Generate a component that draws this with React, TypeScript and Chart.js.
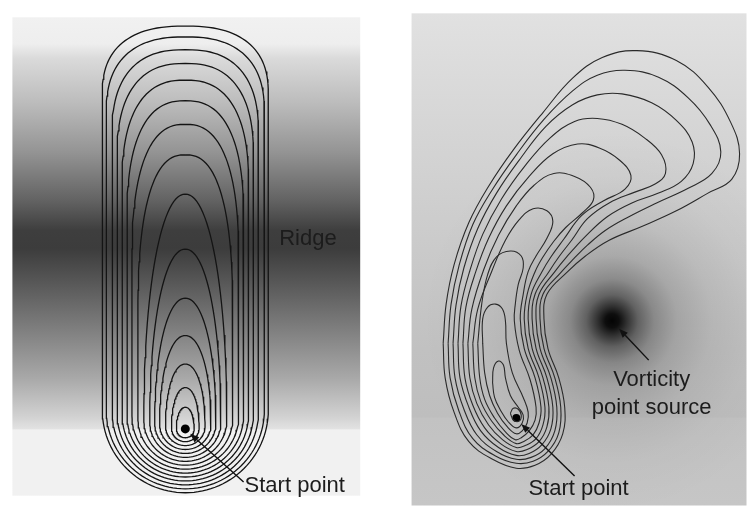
import React, { useEffect, useRef } from "react";
import { Chart, registerables } from "chart.js";

Chart.register(...registerables);

// ---------- Left panel (ridge): nested U-shaped contours, outer first ----------
const leftCenterX = 183;
const leftTops = [22, 33, 46, 60, 77, 98, 122, 153, 193, 249, 299, 337, 366, 390, 410];
const leftBottoms = [497, 493, 489, 485, 481, 477, 473, 469, 465, 461, 457, 453, 449, 445, 441];
const leftHalfWidths = [84, 80, 74, 69, 64, 59, 54, 48, 42, 36, 31, 26, 20, 14, 9];
const leftDomeHeights = [70, 78, 86, 96, 108, 122, 140, 165, 230, 176, 127, 90, 63, 41, 22];

// ---------- Right panel (vorticity source): contours, inner first ----------
const rightContour1 = [[512, 416], [515, 411], [520, 412], [523, 418], [521, 424], [515, 423], [512, 416]];
const rightContour2 = [[494, 385], [495, 370], [500, 363], [505, 367], [507, 380], [512, 398], [520, 410], [525, 418], [524, 426], [518, 431], [510, 425], [502, 413], [496, 400], [494, 385]];
const rightContour3 = [[484, 345], [484, 320], [489, 308], [497, 305], [504, 310], [507, 322], [508, 345], [514, 375], [525, 400], [530, 415], [529, 426], [524, 434], [518, 437], [509, 430], [499, 416], [491, 398], [486, 375], [484, 345]];
const rightContour4 = [[479, 345], [483, 305], [489, 275], [498, 257], [512, 251], [523, 256], [525, 268], [520, 285], [517, 305], [516, 322], [521, 352], [532, 382], [538, 410], [537, 423], [531, 434], [523, 441], [517, 443], [507, 435], [496, 421], [486, 402], [481, 380], [479, 345]];
const rightContour5 = [[474, 345], [479, 310], [493, 272], [507, 240], [521, 219], [535, 208], [549, 210], [555, 221], [549, 238], [538, 256], [530, 272], [525, 295], [522, 320], [526, 350], [537, 380], [543, 410], [541, 426], [535, 438], [525, 445], [518, 447], [506, 439], [493, 424], [482, 404], [476, 380], [474, 345]];
const rightContour6 = [[469, 345], [473, 310], [485, 270], [500, 235], [518, 205], [536, 184], [556, 172], [577, 175], [593, 186], [596, 199], [585, 212], [568, 227], [556, 241], [545, 257], [537, 272], [529, 295], [526, 320], [530, 350], [541, 380], [547, 410], [545, 428], [538, 442], [527, 449], [518, 451], [504, 443], [490, 428], [478, 406], [471, 380], [469, 345]];
const rightContour7 = [[464, 345], [467, 308], [477, 272], [490, 238], [508, 205], [531, 175], [555, 152], [580, 142], [602, 146], [622, 158], [634, 174], [628, 188], [606, 200], [584, 215], [566, 239], [553, 257], [544, 272], [533, 295], [530, 320], [534, 350], [545, 380], [551, 410], [549, 430], [541, 445], [529, 453], [518, 455], [502, 447], [486, 431], [474, 408], [466, 380], [464, 345]];
const rightContour8 = [[459, 345], [462, 307], [471, 271], [484, 234], [503, 198], [527, 164], [552, 136], [577, 119], [600, 116], [625, 122], [648, 136], [665, 153], [669, 172], [658, 183], [638, 191], [612, 202], [590, 218], [574, 240], [561, 257], [551, 272], [537, 295], [534, 320], [538, 350], [549, 380], [555, 410], [553, 432], [544, 448], [531, 457], [518, 459], [500, 451], [482, 434], [470, 410], [461, 380], [459, 345]];
const rightContour9 = [[454, 345], [457, 306], [465, 268], [479, 228], [498, 192], [522, 157], [548, 124], [575, 102], [600, 92], [625, 91], [655, 100], [680, 118], [696, 140], [697, 162], [685, 180], [662, 192], [635, 202], [610, 216], [588, 236], [569, 257], [557, 272], [541, 295], [538, 320], [542, 350], [553, 380], [559, 410], [557, 434], [547, 452], [533, 461], [518, 463], [498, 455], [478, 438], [465, 412], [456, 380], [454, 345]];
const rightContour10 = [[449, 345], [452, 305], [460, 266], [474, 224], [494, 188], [518, 153], [546, 117], [575, 88], [600, 72], [628, 67], [662, 74], [692, 95], [714, 122], [725, 150], [716, 172], [692, 187], [660, 202], [632, 216], [608, 230], [590, 245], [576, 259], [563, 273], [545, 295], [542, 320], [546, 350], [557, 380], [563, 410], [561, 436], [550, 455], [535, 465], [518, 467], [496, 459], [474, 442], [460, 414], [451, 380], [449, 345]];
const rightContour11 = [[444, 345], [447, 305], [455, 265], [470, 222], [490, 185], [515, 148], [545, 110], [575, 75], [605, 54], [640, 47], [680, 57], [712, 84], [735, 120], [744, 152], [736, 178], [712, 192], [680, 210], [645, 226], [612, 240], [588, 256], [570, 272], [549, 295], [546, 320], [550, 350], [561, 380], [567, 410], [565, 437], [553, 458], [537, 469], [518, 472], [494, 463], [470, 445], [455, 415], [446, 380], [444, 345]];
const rightContours = [rightContour1, rightContour2, rightContour3, rightContour4, rightContour5, rightContour6, rightContour7, rightContour8, rightContour9, rightContour10, rightContour11];

// start points and vorticity source
const startPointsX = [183, 518];
const startPointsY = [432, 421];
const vortexX = 615;
const vortexY = 322;

// ---------- layout (annotation) ----------
const PANEL_LEFT = { x0: 8, y0: 13, x1: 360, y1: 500 };
const PANEL_RIGHT = { x0: 412, y0: 9, x1: 751, y1: 510 };
const LABELS = [
  { text: "Ridge", x: 278, y: 245, align: "left" },
  { text: "Start point", x: 243, y: 496, align: "left" },
  { text: "Vorticity", x: 655, y: 388, align: "center" },
  { text: "point source", x: 655, y: 417, align: "center" },
  { text: "Start point", x: 581, y: 499, align: "center" },
];
const ARROWS = [
  { x0: 242, y0: 486, x1: 188, y1: 437 },
  { x0: 652, y0: 362, x1: 622, y1: 330 },
  { x0: 577, y0: 480, x1: 523, y1: 427 },
];

type P = { x: number; y: number };

function leftContour(i: number): P[] {
  const cx = leftCenterX;
  const t = leftTops[i];
  const b = leftBottoms[i];
  const w = leftHalfWidths[i];
  const c = b - w;
  const h = Math.min(leftDomeHeights[i], c - t);
  const full = h >= c - t - 0.5;
  const p = full ? 2.1 : 2.5;
  const yd = t + h;
  const n = 30;
  const right: P[] = [];
  for (let k = 0; k <= n; k++) {
    const a = (k / n) * (Math.PI / 2);
    const sx = Math.pow(Math.sin(a), 2 / p);
    const cy = Math.pow(Math.cos(a), 2 / p);
    right.push({ x: cx + w * sx, y: yd - h * cy });
  }
  const pts: P[] = [...right];
  if (c > yd + 0.5) pts.push({ x: cx + w, y: c });
  for (let k = 1; k < 2 * n; k++) {
    const a = (k / (2 * n)) * Math.PI;
    pts.push({ x: cx + w * Math.cos(a), y: c + w * Math.sin(a) });
  }
  if (c > yd + 0.5) pts.push({ x: cx - w, y: c });
  for (let k = n; k >= 0; k--) {
    const q = right[k];
    pts.push({ x: 2 * cx - q.x, y: q.y });
  }
  return pts;
}

const bgPlugin = {
  id: "bgPanels",
  beforeDatasetsDraw(chart: any) {
    const { ctx, scales } = chart;
    const X = (v: number) => scales.x.getPixelForValue(v);
    const Y = (v: number) => scales.y.getPixelForValue(v);
    ctx.save();
    // left panel
    {
      const x0 = X(PANEL_LEFT.x0), x1 = X(PANEL_LEFT.x1), y0 = Y(PANEL_LEFT.y0), y1 = Y(PANEL_LEFT.y1);
      const g = ctx.createLinearGradient(0, y0, 0, y1);
      const f = (yy: number) => (Y(yy) - y0) / (y1 - y0);
      const stops: [number, string][] = [
        [13, "#f1f1f1"], [40, "#eeeeee"], [55, "#dadada"], [100, "#bcbcbc"], [150, "#949494"],
        [200, "#626262"], [230, "#3e3e3e"], [248, "#3c3c3c"], [280, "#555555"], [330, "#7e7e7e"],
        [380, "#a8a8a8"], [420, "#d2d2d2"], [432, "#e2e2e2"], [433, "#f1f1f1"], [500, "#f1f1f1"],
      ];
      stops.forEach(([yy, col]) => g.addColorStop(Math.min(1, Math.max(0, f(yy))), col));
      ctx.fillStyle = g;
      ctx.fillRect(x0, y0, x1 - x0, y1 - y0);
    }
    // right panel
    {
      const x0 = X(PANEL_RIGHT.x0), x1 = X(PANEL_RIGHT.x1), y0 = Y(PANEL_RIGHT.y0), y1 = Y(PANEL_RIGHT.y1);
      const g = ctx.createLinearGradient(0, y0, 0, y1);
      const f = (yy: number) => (Y(yy) - y0) / (y1 - y0);
      const stops: [number, string][] = [
        [9, "#e1e1e1"], [120, "#d6d6d6"], [250, "#cacaca"], [350, "#c1c1c1"], [420, "#bebebe"],
        [421, "#c2c2c2"], [510, "#c6c6c6"],
      ];
      stops.forEach(([yy, col]) => g.addColorStop(Math.min(1, Math.max(0, f(yy))), col));
      ctx.fillStyle = g;
      ctx.fillRect(x0, y0, x1 - x0, y1 - y0);
      const vx = X(vortexX), vy = Y(vortexY);
      const r = 190;
      const rg = ctx.createRadialGradient(vx, vy, 0, vx, vy, r);
      const rs: [number, number][] = [[0, 0.98], [7, 0.93], [15, 0.74], [26, 0.5], [42, 0.3], [65, 0.16], [100, 0.07], [140, 0.025], [190, 0]];
      rs.forEach(([d, a]) => rg.addColorStop(d / r, `rgba(0,0,0,${a})`));
      ctx.save();
      ctx.beginPath();
      ctx.rect(x0, y0, x1 - x0, y1 - y0);
      ctx.clip();
      ctx.fillStyle = rg;
      ctx.fillRect(x0, y0, x1 - x0, y1 - y0);
      ctx.restore();
    }
    ctx.restore();
  },
  afterDatasetsDraw(chart: any) {
    const { ctx, scales } = chart;
    const X = (v: number) => scales.x.getPixelForValue(v);
    const Y = (v: number) => scales.y.getPixelForValue(v);
    ctx.save();
    ctx.strokeStyle = "#111";
    ctx.fillStyle = "#111";
    ctx.lineWidth = 1.4;
    ARROWS.forEach((a) => {
      const ax = X(a.x0), ay = Y(a.y0), bx = X(a.x1), by = Y(a.y1);
      const ang = Math.atan2(by - ay, bx - ax);
      const L = 9, Wd = 3.5;
      const hx = bx - L * Math.cos(ang), hy = by - L * Math.sin(ang);
      ctx.beginPath();
      ctx.moveTo(ax, ay);
      ctx.lineTo(hx, hy);
      ctx.stroke();
      ctx.beginPath();
      ctx.moveTo(bx, by);
      ctx.lineTo(hx - Wd * Math.sin(ang), hy + Wd * Math.cos(ang));
      ctx.lineTo(hx + Wd * Math.sin(ang), hy - Wd * Math.cos(ang));
      ctx.closePath();
      ctx.fill();
    });
    ctx.font = "22px 'Liberation Sans', Arial, sans-serif";
    ctx.fillStyle = "#1c1c1c";
    ctx.textBaseline = "alphabetic";
    LABELS.forEach((l) => {
      ctx.textAlign = l.align as CanvasTextAlign;
      ctx.fillText(l.text, X(l.x), Y(l.y));
    });
    ctx.restore();
  },
};

export default function App() {
  const ref = useRef<HTMLCanvasElement | null>(null);
  useEffect(() => {
    if (!ref.current) return;
    const datasets: any[] = [];
    leftTops.forEach((_, i) => {
      datasets.push({
        data: leftContour(i),
        showLine: true,
        borderColor: "#141414",
        borderWidth: 1.3,
        pointRadius: 0,
        tension: 0,
        fill: false,
      });
    });
    rightContours.forEach((c) => {
      datasets.push({
        data: c.map(([x, y]) => ({ x, y })),
        showLine: true,
        borderColor: "#2a2a2a",
        borderWidth: 1.1,
        pointRadius: 0,
        tension: 0.4,
        fill: false,
      });
    });
    datasets.push({
      data: startPointsX.map((x, i) => ({ x, y: startPointsY[i] })),
      showLine: false,
      pointRadius: [4.5, 4],
      pointBackgroundColor: "#000",
      pointBorderColor: "#000",
      pointBorderWidth: 0,
    });
    const chart = new Chart(ref.current, {
      type: "scatter",
      data: { datasets },
      options: {
        responsive: false,
        animation: false,
        events: [],
        layout: { padding: 0 },
        plugins: { legend: { display: false }, tooltip: { enabled: false } },
        scales: {
          x: { type: "linear", min: 0, max: 751, display: false },
          y: { type: "linear", min: 0, max: 510, reverse: true, display: false },
        },
        elements: { line: { capBezierPoints: false } },
      },
      plugins: [bgPlugin],
    } as any);
    return () => chart.destroy();
  }, []);
  return (
    <div style={{ position: "fixed", left: 0, top: 0, width: 751, height: 510, background: "#fff" }}>
      <canvas ref={ref} width={751} height={510} style={{ display: "block", width: 751, height: 510 }} />
    </div>
  );
}
